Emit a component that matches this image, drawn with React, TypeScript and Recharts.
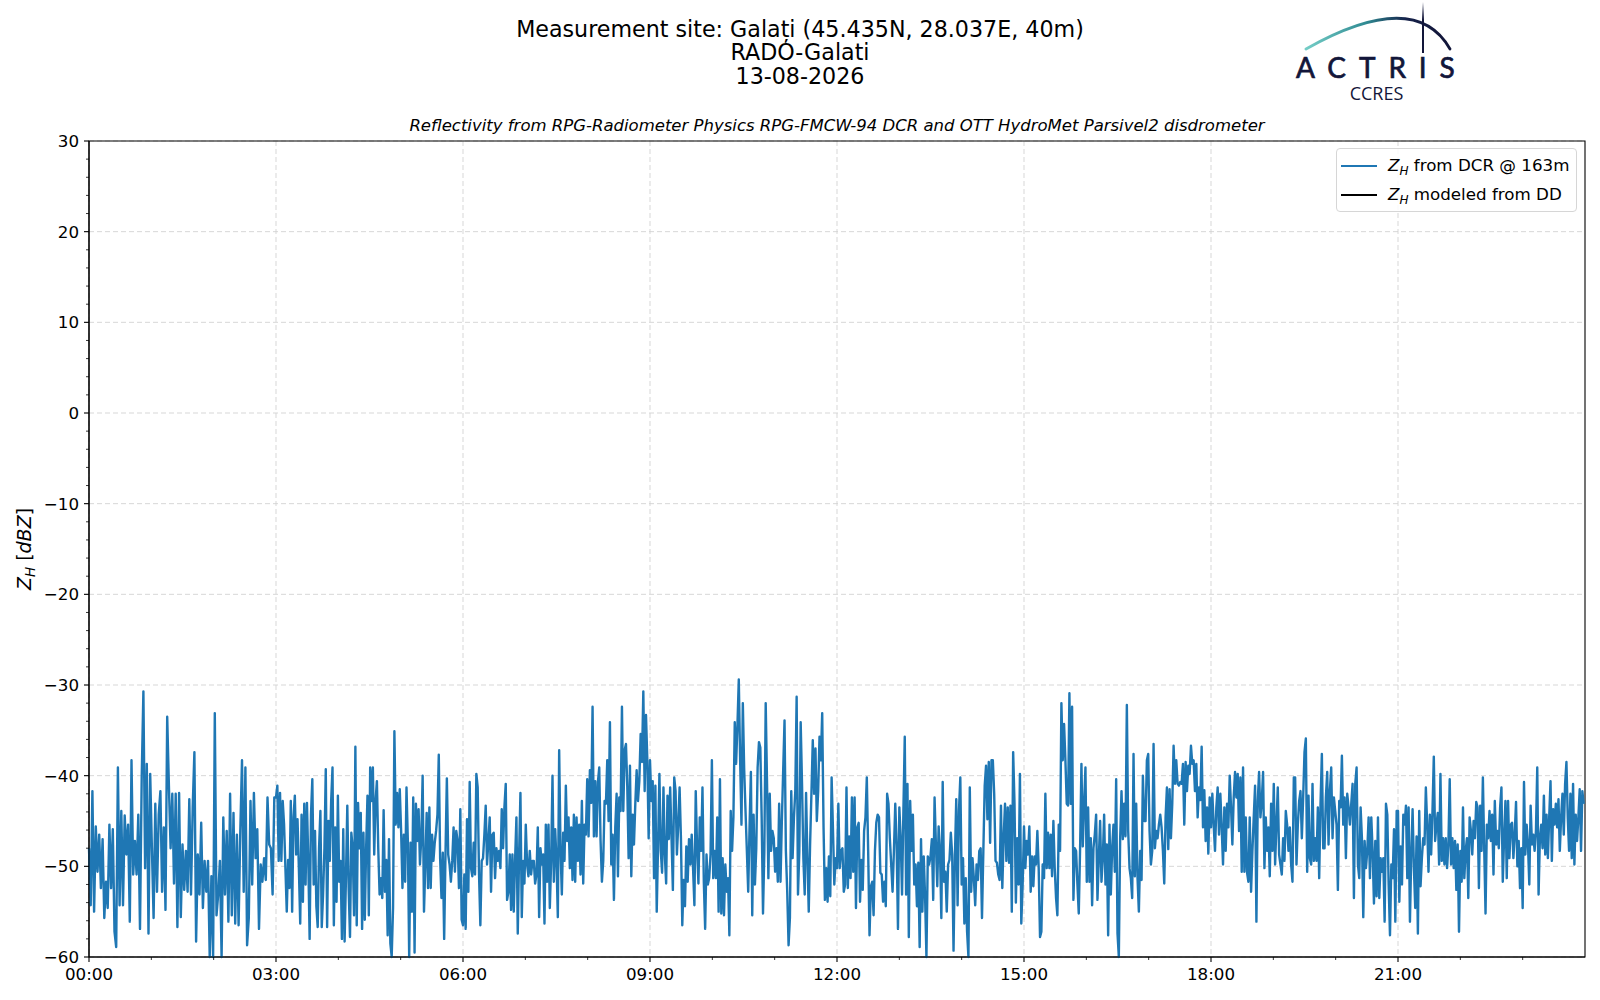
import {
  LineChart,
  Line,
  XAxis,
  YAxis,
  CartesianGrid,
  Legend,
  ReferenceArea,
} from "recharts";

// Z_H from DCR @ 163m, dBZ in 3 h blocks
const dcr0000 = [
  -48, -54.3, -41.7, -55, -45.6, -50.6, -46.5, -52.4, -47, -55.7, -51.7, -54.6, -45.4, -52.4, -45.9, -57.2,
  -58.9, -39.1, -54.3, -43.9, -54.3, -44.4, -48.7, -45.4, -56.1, -38.3, -50.9, -47.2, -50.9, -44.3, -56.9, -40.2,
  -30.7, -50.2, -38.7, -57.4, -39.8, -48, -55.7, -43.1, -52.8, -44.3, -41.7, -52.8, -45.7, -54.8, -33.5, -41.1,
  -48, -42, -51.9, -42, -56.7, -41.9, -55.6, -47.6, -52.6, -48.3, -52.8, -42.6, -53.1, -43.5, -37.4, -58.3,
  -48.7, -53.1, -45.2, -54.6, -49.4, -52.8, -49.4, -60, -51.1, -60, -33.1, -55.4, -53.1, -49.4, -60, -44.6,
  -53.1, -46.1, -56.1, -42, -55.4, -44.1, -56.3, -46.5, -56.5, -46.1, -38.3, -52.8, -39.1, -58.7, -55.7, -42.8,
  -52, -41.9, -49.1, -45.9, -56.9, -49.8, -51.7, -49.1, -51.5, -42.4, -47.6, -48, -53.1, -42.4,
];
const dcr0300 = [
  -42.4, -41.1, -49.4, -41.9, -49.4, -42.8, -45.4, -50.2, -55, -49.3, -52.4, -42.8, -55, -44.6, -42.2, -48.7,
  -44.8, -50.2, -56.3, -44.3, -53.9, -43.1, -52, -43, -49.4, -58, -44.3, -40.4, -52, -46.1, -54.4, -56.7,
  -48, -43.9, -56.7, -53.1, -48, -39.3, -56.7, -45, -49.4, -42.8, -39.1, -56.5, -45.7, -53.9, -42.2, -51.7,
  -49.4, -58, -45.9, -58.3, -51.3, -43.3, -52.4, -57.8, -46.3, -48, -55.4, -36.8, -56.5, -43, -48, -44.1,
  -56.9, -46.3, -55.9, -48, -42.2, -55.4, -39.1, -42.8, -39.1, -48.7, -42.8, -40.6, -48, -53.1, -51.3, -53.5,
  -43.8, -52.8, -49.3, -57.6, -47, -58.5, -60, -54.6, -35.1, -45.4, -41.9, -45.7, -41.5, -46.1, -52.4, -46.5,
  -51.7, -41.3, -47.2, -60, -47.4, -55, -42.4, -59.5, -43.1, -47.2, -43.7, -49.8, -46.9, -40, -55, -49.8,
  -44.1, -52.4, -43.5, -52.4, -46.5, -49.4, -47.4, -46.1, -44.3, -37.7, -49.1, -53.5, -48.5, -58, -48.5, -40.3,
  -48.7, -49.8, -51.7, -49.4, -45.7, -50.6, -46.1, -47.2, -52.4, -43.7, -55.9,
];
const dcr0600 = [
  -56.5, -50.9, -56.9, -44.8, -52.8, -40.7, -50.2, -51.1, -47.4, -50.9, -39.8, -41.3, -50.9, -56.5, -49.4, -49.1,
  -46.5, -43.3, -49.8, -47.2, -44.6, -52.8, -46.5, -46.3, -51.3, -48, -49.4, -48.3, -50.2, -43.7, -48, -43.5,
  -40.9, -53.7, -52.8, -48.7, -54.8, -48.7, -55, -49.3, -44.6, -57.4, -48.7, -41.9, -55.6, -49.4, -51.9, -45.4,
  -49.8, -51.1, -48.3, -50.9, -49.4, -49.4, -51.9, -50.9, -45.7, -55.6, -48, -49.8, -48.7, -56.3, -45.4, -51.7,
  -45.4, -54.6, -49.4, -40, -51.7, -45.9, -49.4, -55.6, -37.2, -48, -53.1, -46.3, -49.4, -41.1, -47.2, -44.6,
  -50.2, -45.7, -51.5, -44.3, -51.7, -44.6, -49.4, -45.4, -50.9, -42.8, -51.9, -45.4, -46.5, -40.4, -46.7, -39.4,
  -43, -32.4, -46.7, -40.6, -46.7, -40.7, -39.1, -47.2, -51.7, -49.4, -42.8, -43.1, -38.3, -45, -34.1, -49.8,
  -46.5, -53.7, -45.7, -42, -51.1, -42.4, -43.9, -32.4, -43.9, -37.2, -36.5, -41.3, -49.1, -38.9, -51.1, -44.3,
  -47.6, -43.1, -39.4, -42.8, -40.6, -35.4, -38.5, -30.7, -41.7, -33.3, -38.3, -46.9,
];
const dcr0900 = [
  -38.3, -42.8, -40.6, -51.3, -41.1, -55, -47.6, -39.8, -48.3, -50.7, -41.3, -48.7, -51.9, -42.2, -47, -41.3,
  -46.9, -52.6, -40.2, -41.7, -48.7, -45.4, -41.3, -46.9, -56.5, -51.5, -54.4, -47.8, -51.7, -47, -49.8, -46.5,
  -50.2, -54.3, -41.7, -48, -51.9, -44.6, -48.3, -41.3, -51.7, -56.9, -48.7, -52, -51.3, -48.7, -38.3, -51.3,
  -48.3, -51.3, -44.6, -55, -40.4, -55.2, -49.1, -55.4, -49.8, -52.8, -51.3, -57.6, -43.9, -48.3, -44.6, -34.1,
  -38.7, -34.4, -29.4, -38.3, -45.4, -32, -39.3, -43.9, -48.3, -52.8, -45.7, -39.6, -55.4, -44.3, -52, -48,
  -39.1, -36.3, -36.9, -44.6, -55.2, -48.3, -32, -40.9, -51.3, -42, -48.3, -46.1, -46.9, -50.6, -48, -51.7,
  -43.1, -51.7, -45, -39.4, -33.9, -48.3, -52.8, -58.7, -55.7, -41.7, -49.1, -44.6, -41.7, -31.3, -53.1, -48.3,
  -34.1, -40.9, -49.1, -53.1, -41.9, -49.1, -55, -47.6, -41.9, -36.1, -42, -37, -45, -41.7, -35.7, -38.3,
  -33.1, -45.7, -53.7, -50.2, -53.9, -48.9, -53.3, -40.2, -45.9, -52, -49.1,
];
const dcr1200 = [
  -50.2, -43.1, -50.2, -48.3, -48, -52.8, -52, -41.3, -52.4, -46.7, -51.3, -42.4, -50.6, -42.4, -54.6, -45.7,
  -45.2, -53.9, -49.3, -52.6, -46.1, -44.6, -40.2, -48.3, -57.6, -52.2, -51.7, -55.4, -48.3, -45.2, -44.3, -44.6,
  -50.7, -50.9, -53.9, -51.7, -54.4, -42, -43.1, -46.9, -49.8, -52.8, -48.3, -43.1, -47.6, -56.9, -43.5, -46.9,
  -53.1, -43.9, -35.7, -53.1, -40.9, -57.8, -42.8, -48.3, -44.3, -52, -49.8, -54.4, -49.6, -58.9, -47, -55,
  -48.9, -53.3, -60, -48.9, -49.8, -48.9, -47, -53.7, -42.4, -47.6, -52.2, -45.6, -48.3, -55.7, -40.7, -51.7,
  -50.6, -55, -49.8, -49.3, -46.3, -48.7, -59.3, -49.1, -42.6, -54.3, -43.9, -40.2, -52, -49.1, -56.3, -51.3,
  -57.2, -60, -41.3, -52.8, -49.1, -51.3, -54.3, -49.8, -51.5, -48.3, -48, -55.7, -48.3, -41.1, -38.9, -44.8,
  -38.5, -47.4, -38.3, -38.3, -42, -49.4, -49.6, -50.9, -51.5, -43.3, -52.4, -46.7, -43.1, -49.4, -43.5, -49.6,
  -43.3, -55, -37.4, -43.1, -54, -46.9, -52, -39.8, -56.3, -52,
];
const dcr1500 = [
  -45.6, -50.2, -47.2, -48.7, -45.6, -52.8, -48.9, -52.2, -48.9, -49.8, -46.1, -50.2, -57.8, -57.2, -49.8, -51.3,
  -42, -50.2, -46.3, -50.2, -46.5, -51.1, -45, -50.2, -53.5, -55.4, -45.4, -48.3, -32, -38.3, -34.3, -38.3,
  -43.1, -43.3, -30.9, -43.1, -32.4, -53.7, -48, -48.3, -52, -55.2, -48, -38.7, -47.8, -43.1, -39.1, -51.7,
  -43.5, -51.7, -46.9, -54.3, -48, -46.5, -44.3, -53.7, -49.1, -45, -51.7, -49.1, -44.3, -52, -47.6, -57.6,
  -45.4, -53.1, -48, -45.4, -50.6, -40.4, -57.4, -60, -46.9, -41.7, -47, -43.1, -46.7, -32.2, -46.1, -50.2,
  -51.3, -53.5, -37.6, -51.1, -43.1, -51.3, -55, -48.3, -51.5, -40, -45, -45, -38.3, -37.6, -46.1, -49.8,
  -48.3, -36.5, -48, -46.1, -46.9, -45.4, -44.3, -45.7, -48.3, -51.9, -44.6, -41.3, -48.1, -41.5, -46.9, -43.1,
  -36.7, -40.9, -38.3, -40.9, -41.1, -40.7, -40.9, -38.7, -45.4, -38.5, -41.7, -38.9, -39.8, -36.7, -38.7, -38.3,
  -41.7, -38.7, -44.6, -41.3, -42.7, -36.8, -45.7, -41.6, -47.2, -43.5, -48.6, -42.4,
];
const dcr1800 = [
  -45.7, -42, -45.4, -48.3, -43.5, -41.3, -46.5, -42, -45.7, -49.8, -43.5, -48.3, -43.1, -45.7, -40, -43.5,
  -47.6, -42.4, -39.6, -42.4, -39.8, -46.1, -40.2, -50.6, -39.1, -50.6, -44.6, -50.7, -51.7, -44.6, -52.8, -48.3,
  -44.6, -41.1, -56.1, -42.8, -39.6, -44.6, -42.8, -39.6, -50.2, -44.6, -48.3, -45.7, -51.1, -43.1, -48.3, -40.9,
  -49.8, -45.4, -41.3, -48.7, -49.8, -50.9, -46.9, -49.4, -43.9, -45.4, -48.3, -45.7, -49.8, -51.7, -40.2, -40.2,
  -49.8, -45.4, -42.8, -41.7, -46.9, -42.4, -37.4, -35.9, -50.6, -42.2, -49.1, -49.8, -40.9, -49.4, -46.9, -49.4,
  -43.5, -51.3, -43.1, -37.6, -48, -48, -42.4, -39.6, -47.6, -41.7, -39.1, -46.9, -42.4, -43.9, -45.4, -52.6,
  -42.8, -43.5, -37.8, -45.4, -42.4, -49.1, -42, -43.5, -45.4, -43.1, -40.9, -53.5, -40.9, -39.1, -49.8, -51.3,
  -43.5, -46.9, -55.6, -47.2, -50.2, -48.3, -44.6, -51.3, -44.6, -48.3, -54.1, -47.2, -53.3, -44.6, -53.5, -49.1,
  -50.6, -49.1, -56.1, -43.1, -44.3, -52, -57.6, -49.8, -51.3, -45.9, -56.1, -43.9,
];
const dcr2100 = [
  -43.9, -53.9, -47.8, -52, -44.3, -45.4, -43.3, -51.3, -43.5, -56.1, -48.7, -43.7, -50.2, -54.6, -46.7, -57.4,
  -43.9, -52.2, -49.1, -46.9, -47.6, -41.3, -45.4, -50.6, -44.3, -48.7, -43.9, -37.9, -47.2, -45.4, -44.1, -49.8,
  -39.8, -49.4, -46.9, -49.8, -46.9, -50.2, -47.6, -40.4, -49.8, -46.9, -50.2, -47.2, -52.6, -47.6, -57.2, -48.3,
  -51.7, -43.5, -51.3, -48.3, -46.9, -53.5, -44.6, -46.1, -48.7, -45, -46.9, -42.9, -43.5, -52.4, -43.3, -48.3,
  -40.2, -48, -55.2, -45.4, -46.9, -43.9, -47.2, -44.3, -50.9, -42.8, -47.6, -46.1, -48, -43.5, -41.3, -51.7,
  -46.9, -42.8, -51.3, -42.8, -49.1, -45.4, -45.2, -49.1, -46.5, -42.9, -50, -47.2, -52.4, -48, -54.6, -40.7,
  -48.7, -45.4, -47.6, -52, -43.3, -47.6, -46.5, -48.3, -46.1, -39.1, -53.1, -46.9, -45.4, -48, -42.2, -48.7,
  -44.3, -49.1, -44.6, -40.6, -49.4, -43.7, -45.4, -43.1, -45.7, -42.6, -48.3, -44.6, -42, -46.5, -40.9, -38.5,
  -44.6, -48.3, -42, -49.1, -40.9, -49.8, -44.3, -47.2, -44.6, -41.5, -48.3, -41.7, -43.1,
];

const blocks = [dcr0000, dcr0300, dcr0600, dcr0900, dcr1200, dcr1500, dcr1800, dcr2100];

// minutes since 00:00
const hourTicks = [
  0, 60, 120, 180, 240, 300, 360, 420, 480, 540, 600, 660, 720, 780, 840, 900, 960, 1020, 1080, 1140, 1200,
  1260, 1320, 1380,
];
const labelledHours = [0, 180, 360, 540, 720, 900, 1080, 1260];
const dbzTicks = [
  -60, -58, -56, -54, -52, -50, -48, -46, -44, -42, -40, -38, -36, -34, -32, -30, -28, -26, -24, -22, -20,
  -18, -16, -14, -12, -10, -8, -6, -4, -2, 0, 2, 4, 6, 8, 10, 12, 14, 16, 18, 20, 22, 24, 26, 28, 30,
];
const labelledDbz = [-60, -50, -40, -30, -20, -10, 0, 10, 20, 30];

const rows = blocks.flatMap((block, k) =>
  block.map((v, j) => ({ t: k * 180 + (j * 180) / block.length, dcr: v }))
);

const FONT = "'DejaVu Sans', sans-serif";
const TICK = 5;
const PAD = 5;

const hhmm = (m: number) => String(Math.floor(m / 60)).padStart(2, "0") + ":00";
const dbz = (v: number) => (v < 0 ? "\u2212" + Math.abs(v) : String(v));

const XTick = (props: any) => {
  const { x, y, payload } = props;
  const v = payload.value;
  const major = labelledHours.includes(v);
  const ay = y - TICK - PAD;
  return (
    <g>
      <line x1={x} x2={x} y1={ay} y2={ay + (major ? 5 : 3)} stroke="#000" strokeWidth={major ? 1.1 : 0.8} />
      {major && (
        <text x={x} y={y + 1.5} dy="0.71em" textAnchor="middle" fontSize={16.7} fontFamily={FONT} fill="#000">
          {hhmm(v)}
        </text>
      )}
    </g>
  );
};

const YTick = (props: any) => {
  const { x, y, payload } = props;
  const v = payload.value;
  const major = labelledDbz.includes(v);
  const ax = x + TICK + PAD;
  return (
    <g>
      <line x1={ax - (major ? 5 : 3)} x2={ax} y1={y} y2={y} stroke="#000" strokeWidth={major ? 1.1 : 0.8} />
      {major && (
        <text x={x} y={y} dy="0.36em" textAnchor="end" fontSize={16.7} fontFamily={FONT} fill="#000">
          {dbz(v)}
        </text>
      )}
    </g>
  );
};

const LegendBox = (props: any) => {
  const payload = props.payload ?? [];
  return (
    <div
      style={{
        width: 239,
        height: 62,
        border: "1px solid #d6d6d6",
        borderRadius: 4,
        background: "rgba(255,255,255,0.85)",
        fontFamily: FONT,
        fontSize: 16.7,
        position: "relative",
        color: "#000",
      }}
    >
      {payload.map((p: any, i: number) => (
        <div
          key={i}
          style={{
            position: "absolute",
            left: 4,
            top: 17 + i * 29 - 11,
            height: 22,
            display: "flex",
            alignItems: "center",
            whiteSpace: "nowrap",
          }}
        >
          <span style={{ display: "inline-block", width: 36, height: 2.2, background: p.color }} />
          <span style={{ marginLeft: 11 }}>
            <i>Z</i>
            <sub style={{ fontSize: 12, fontStyle: "italic", verticalAlign: "-4px" }}>H</sub> {p.value}
          </span>
        </div>
      ))}
    </div>
  );
};

const Header = () => (
  <svg
    width={1600}
    height={1000}
    style={{ position: "absolute", left: 0, top: 0, pointerEvents: "none" }}
    fontFamily={FONT}
  >
    <defs>
      <linearGradient id="arcGrad" x1="1306" y1="0" x2="1440" y2="0" gradientUnits="userSpaceOnUse">
        <stop offset="0" stopColor="#74cdc6" />
        <stop offset="0.45" stopColor="#2f8a92" />
        <stop offset="0.75" stopColor="#16224a" />
        <stop offset="1" stopColor="#12163a" />
      </linearGradient>
      <linearGradient id="mastGrad" x1="0" y1="2" x2="0" y2="53" gradientUnits="userSpaceOnUse">
        <stop offset="0" stopColor="#12163a" stopOpacity="0" />
        <stop offset="0.35" stopColor="#12163a" />
        <stop offset="1" stopColor="#12163a" />
      </linearGradient>
    </defs>
    <g textAnchor="middle" fontSize={22.2} fill="#000">
      <text x={800} y={36.5}>Measurement site: Galați (45.435N, 28.037E, 40m)</text>
      <text x={800} y={60}>RADO-Galati</text>
      <text x={800} y={83.5}>13-08-2026</text>
    </g>
    <text x={837} y={131} textAnchor="middle" fontSize={16.5} fontStyle="italic" fill="#000">
      Reflectivity from RPG-Radiometer Physics RPG-FMCW-94 DCR and OTT HydroMet Parsivel2 disdrometer
    </text>
    <text transform="translate(31,549) rotate(-90)" textAnchor="middle" fontSize={19} fill="#000">
      <tspan fontStyle="italic">Z</tspan>
      <tspan fontStyle="italic" fontSize={13.5} dy={4}>
        H
      </tspan>
      <tspan dy={-4}> [</tspan>
      <tspan fontStyle="italic">dBZ</tspan>
      <tspan>]</tspan>
    </text>
    {/* ACTRIS CCRES logo */}
    <path d="M1306 49 Q1415 -12.4 1450 49" fill="none" stroke="url(#arcGrad)" strokeWidth={2.8} strokeLinecap="round" />
    <line x1={1423} x2={1423} y1={2} y2={53} stroke="url(#mastGrad)" strokeWidth={2} />
    <text
      x={1296}
      y={77.5}
      fontFamily="Lato, 'Open Sans', sans-serif"
      fontSize={28}
      letterSpacing={12.9}
      fill="#12163a"
      stroke="#12163a"
      strokeWidth={0.7}
    >
      ACTRIS
    </text>
    <text x={1376.5} y={100} textAnchor="middle" fontFamily="'Open Sans', sans-serif" fontSize={18} fill="#12163a">
      CCRES
    </text>
  </svg>
);

export default function App() {
  return (
    <div style={{ position: "absolute", left: 0, top: 0, width: 1600, height: 1000, background: "#fff" }}>
      <LineChart width={1600} height={1000} data={rows} margin={{ top: 141, right: 15, bottom: 13, left: 29 }}>
        <CartesianGrid
          horizontalValues={labelledDbz}
          verticalValues={labelledHours}
          stroke="#d3d3d3"
          strokeDasharray="5 3"
          strokeWidth={0.9}
        />
        <XAxis
          dataKey="t"
          type="number"
          domain={[0, 1440]}
          ticks={hourTicks}
          interval={0}
          height={30}
          tickSize={TICK}
          tickMargin={PAD}
          tickLine={false}
          tick={XTick}
          axisLine={{ stroke: "#000", strokeWidth: 1.1 }}
        />
        <YAxis
          type="number"
          domain={[-60, 30]}
          ticks={dbzTicks}
          interval={0}
          width={60}
          tickSize={TICK}
          tickMargin={PAD}
          tickLine={false}
          tick={YTick}
          axisLine={{ stroke: "#000", strokeWidth: 1.1 }}
        />
        <Line
          type="linear"
          dataKey="dcr"
          name="from DCR @ 163m"
          stroke="#1f77b4"
          strokeWidth={2.4}
          strokeLinejoin="round"
          dot={false}
          activeDot={false}
          isAnimationActive={false}
        />
        <Line
          type="linear"
          dataKey="dd"
          name="modeled from DD"
          stroke="#000"
          strokeWidth={2}
          dot={false}
          activeDot={false}
          isAnimationActive={false}
        />
        <ReferenceArea x1={0} x2={1440} y1={-60} y2={30} fill="none" fillOpacity={0} stroke="#000" strokeWidth={1.1} />
        <Legend
          layout="vertical"
          align="center"
          verticalAlign="middle"
          content={LegendBox}
          wrapperStyle={{ left: 1336, top: 148, width: 241, height: 64 }}
        />
      </LineChart>
      <Header />
    </div>
  );
}
